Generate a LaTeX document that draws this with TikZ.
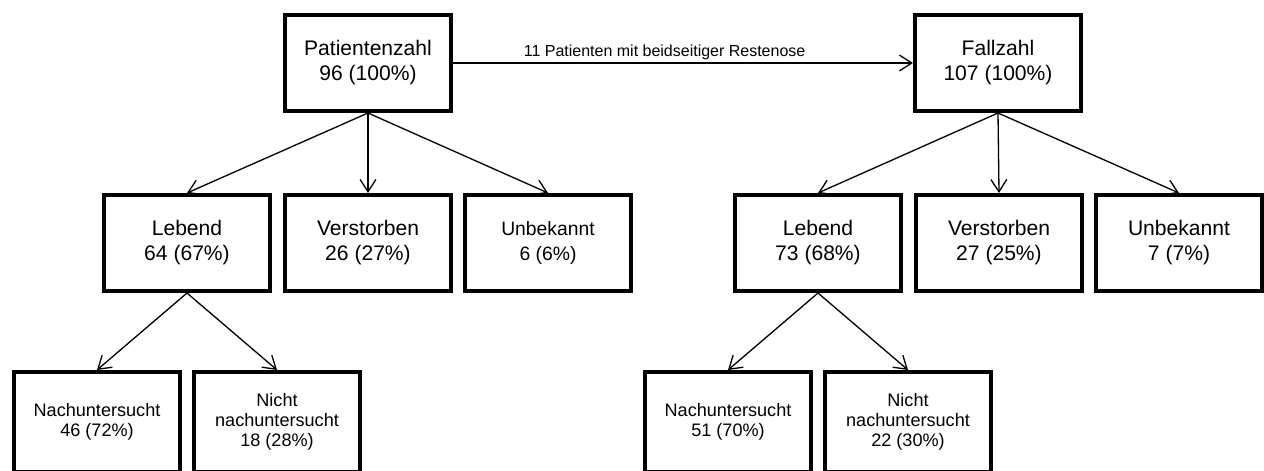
\documentclass[tikz,border=0pt]{standalone}
\usepackage{fontspec}
\setmainfont{Liberation Sans}
\usetikzlibrary{arrows.meta}

\begin{document}
\begin{tikzpicture}[x=0.02cm,y=-0.02cm,>={Straight Barb[length=7pt,width=9pt]},
  box/.style={draw,line width=2.3pt,minimum width=3.32cm,minimum height=1.92cm,align=center,font=\fontsize{12}{14.2}\selectfont},
  unten/.style={box,minimum height=2cm,font=\fontsize{10.3}{11.3}\selectfont},
  pfeil/.style={->,line width=0.75pt}]
\useasboundingbox (0,0) rectangle (1264,470);
\node[box] (pz) at (368,63) {Patientenzahl\\96 (100\%)};
\node[box] (fz) at (998,63) {Fallzahl\\107 (100\%)};
\node[box] (leb1) at (187,243) {Lebend\\64 (67\%)};
\node[box] (vst1) at (368,243) {Verstorben\\26 (27\%)};
\node[box,font=\fontsize{11}{14.2}\selectfont] (unb1) at (548,243) {Unbekannt\\6 (6\%)};
\node[box] (leb2) at (818,243) {Lebend\\73 (68\%)};
\node[box] (vst2) at (999,243) {Verstorben\\27 (25\%)};
\node[box] (unb2) at (1179,243) {Unbekannt\\7 (7\%)};
\node[unten] (nach1) at (97,422) {Nachuntersucht\\46 (72\%)};
\node[unten] (nicht1) at (277,422) {Nicht\\nachuntersucht\\18 (28\%)};
\node[unten] (nach2) at (728,422) {Nachuntersucht\\51 (70\%)};
\node[unten] (nicht2) at (908,422) {Nicht\\nachuntersucht\\22 (30\%)};
\draw[pfeil] (pz) -- node[above,inner sep=1.5pt,pos=0.46,font=\fontsize{9.1}{11}\selectfont] {11 Patienten mit beidseitiger Restenose} (fz);
\draw[pfeil] (pz.south) -- (leb1.north);
\draw[pfeil] (pz.south) -- (vst1.north);
\draw[pfeil] (pz.south) -- (unb1.north);
\draw[pfeil] (fz.south) -- (leb2.north);
\draw[pfeil] (fz.south) -- (vst2.north);
\draw[pfeil] (fz.south) -- (unb2.north);
\draw[pfeil] (leb1.south) -- (nach1.north);
\draw[pfeil] (leb1.south) -- (nicht1.north);
\draw[pfeil] (leb2.south) -- (nach2.north);
\draw[pfeil] (leb2.south) -- (nicht2.north);
\end{tikzpicture}
\end{document}
